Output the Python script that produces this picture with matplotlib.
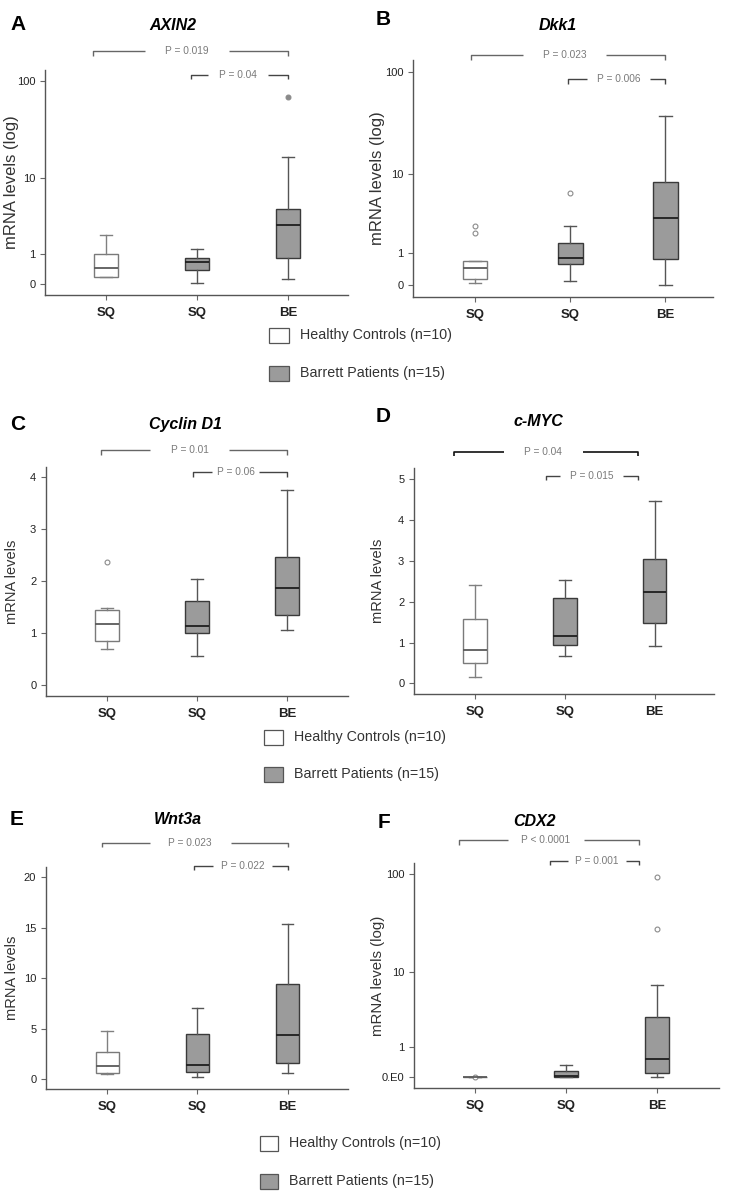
import numpy as np
import matplotlib
matplotlib.use("Agg")
import matplotlib.pyplot as plt
from matplotlib.patches import Rectangle

plt.rcParams['font.family'] = ['Liberation Sans', 'DejaVu Sans']

# categories
groups = ["SQ", "SQ", "BE"]
genes = ["AXIN2", "Dkk1", "Cyclin D1", "c-MYC", "Wnt3a", "CDX2"]
letters = ["A", "B", "C", "D", "E", "F"]
legend_labels = ["Healthy Controls (n=10)", "Barrett Patients (n=15)"]

# box stats (HC SQ, BE-patient SQ, BE-patient BE)
axin2_q1 = [0.18, 0.37, 0.79]
axin2_med = [0.45, 0.64, 2.8]
axin2_q3 = [1.0, 0.79, 4.53]
axin2_lo = [0.17, 0.03, 0.13]
axin2_hi = [2.02, 1.23, 16.8]
axin2_out = [[], [], [69.6]]

dkk1_q1 = [0.15, 0.57, 0.77]
dkk1_med = [0.44, 0.80, 3.25]
dkk1_q3 = [0.69, 1.49, 8.3]
dkk1_lo = [0.045, 0.10, 0.0]
dkk1_hi = [0.69, 2.57, 37.9]
dkk1_out = [[2.11, 2.6], [6.4], []]

ccnd1_q1 = [0.84, 1.01, 1.35]
ccnd1_med = [1.17, 1.13, 1.86]
ccnd1_q3 = [1.44, 1.61, 2.47]
ccnd1_lo = [0.70, 0.56, 1.06]
ccnd1_hi = [1.49, 2.04, 3.74]
ccnd1_out = [[2.37], [], []]

myc_q1 = [0.49, 0.93, 1.48]
myc_med = [0.81, 1.17, 2.23]
myc_q3 = [1.58, 2.10, 3.05]
myc_lo = [0.15, 0.67, 0.92]
myc_hi = [2.40, 2.53, 4.47]
myc_out = [[], [], []]

wnt3a_q1 = [0.66, 0.76, 1.58]
wnt3a_med = [1.29, 1.42, 4.36]
wnt3a_q3 = [2.67, 4.46, 9.41]
wnt3a_lo = [0.5, 0.2, 0.59]
wnt3a_hi = [4.75, 7.09, 15.35]
wnt3a_out = [[], [], []]

cdx2_q1 = [0.01, 0.015, 0.095]
cdx2_med = [0.01, 0.02, 0.51]
cdx2_q3 = [0.01, 0.15, 2.95]
cdx2_lo = [0.01, 0.0, 0.0]
cdx2_hi = [0.01, 0.32, 7.17]
cdx2_out = [[0.01], [], [27.7, 93.0]]

# p values: (overall, SQ vs BE in patients)
p_upper = ["P = 0.019", "P = 0.023", "P = 0.01", "P = 0.04", "P = 0.023", "P < 0.0001"]
p_lower = ["P = 0.04", "P = 0.006", "P = 0.06", "P = 0.015", "P = 0.022", "P = 0.001"]

stats_all = [
    (axin2_q1, axin2_med, axin2_q3, axin2_lo, axin2_hi, axin2_out),
    (dkk1_q1, dkk1_med, dkk1_q3, dkk1_lo, dkk1_hi, dkk1_out),
    (ccnd1_q1, ccnd1_med, ccnd1_q3, ccnd1_lo, ccnd1_hi, ccnd1_out),
    (myc_q1, myc_med, myc_q3, myc_lo, myc_hi, myc_out),
    (wnt3a_q1, wnt3a_med, wnt3a_q3, wnt3a_lo, wnt3a_hi, wnt3a_out),
    (cdx2_q1, cdx2_med, cdx2_q3, cdx2_lo, cdx2_hi, cdx2_out),
]

W, H = 733, 1193
fig = plt.figure(figsize=(W / 100, H / 100), dpi=100)

# axes boxes in pixels: left, top, right, bottom
boxes = [(45, 70, 348, 295), (413, 60, 713, 297),
         (46, 467, 348, 696), (414, 468, 714, 694),
         (46, 867, 348, 1089), (414, 863, 719, 1088)]
log_panel = [True, True, False, False, False, True]
ylims = [(-0.22, 128), (-0.23, 131), (-0.21, 4.19), (-0.26, 5.28), (-0.96, 21.0), (-0.215, 128)]
yticks = [[0, 1, 10, 100], [0, 1, 10, 100], [0, 1, 2, 3, 4], [0, 1, 2, 3, 4, 5],
          [0, 5, 10, 15, 20], [0, 1, 10, 100]]
xlims = [(-0.67, 2.66), (-0.65, 2.5), (-0.68, 2.68), (-0.68, 2.66), (-0.68, 2.67), (-0.67, 2.68)]
ylabel_size = [12, 12, 10.5, 10.5, 10.5, 10.8]
# bracket geometry: (x0, x1, y_axes_frac, text_center, half_gap)
upper_br = [(-0.14, 2.0, 1.084, 0.89, 0.46), (-0.04, 2.0, 1.021, 0.94, 0.44),
            (-0.07, 2.0, 1.074, 0.92, 0.44), (-0.24, 1.81, 1.071, 0.76, 0.44),
            (-0.06, 2.0, 1.108, 0.92, 0.45), (-0.18, 1.80, 1.102, 0.78, 0.42)]
lower_br = [(0.93, 2.0, 0.978, 1.45, 0.33), (0.98, 2.0, 0.920, 1.51, 0.33),
            (0.96, 2.0, 0.978, 1.43, 0.26), (0.79, 1.81, 0.965, 1.30, 0.35),
            (0.96, 2.0, 1.005, 1.50, 0.33), (0.82, 1.80, 1.009, 1.34, 0.32)]
letter_pos = [(10, 30), (376, 25), (10, 430), (376, 422), (10, 825), (378, 828)]
title_pos = [(173, 25), (558, 25), (185, 425), (538, 422), (178, 820), (534, 822)]

fwd = lambda v: np.log10(np.asarray(v, dtype=float) + 1)
inv = lambda v: 10 ** np.asarray(v, dtype=float) - 1

for i in range(6):
    l, t, r, b = boxes[i]
    ax = fig.add_axes([l / W, 1 - b / H, (r - l) / W, (b - t) / H])
    q1, med, q3, lo, hi, out = stats_all[i]
    if log_panel[i]:
        ax.set_yscale('function', functions=(fwd, inv))
    bstats = []
    for k in range(3):
        bstats.append(dict(q1=q1[k], med=med[k], q3=q3[k], whislo=lo[k], whishi=hi[k],
                           fliers=out[k]))
    for k in range(3):
        hc = k == 0
        ec = '#7a7a7a' if hc else '#3a3a3a'
        ax.bxp([bstats[k]], positions=[k], widths=0.26, capwidths=0.13, patch_artist=True,
               boxprops=dict(facecolor='white' if hc else '#9b9b9b', edgecolor=ec, linewidth=1.0),
               medianprops=dict(color='#5a5a5a' if hc else '#1e1e1e', linewidth=1.3),
               whiskerprops=dict(color='#808080' if hc else '#555555', linewidth=1.0),
               capprops=dict(color='#808080' if hc else '#555555', linewidth=1.0),
               flierprops=dict(marker='o', markersize=3.5,
                               markerfacecolor='#8a8a8a' if (i == 0) else 'white',
                               markeredgecolor='#8a8a8a', markeredgewidth=0.8),
               manage_ticks=False)
    ax.set_xlim(*xlims[i])
    ax.set_ylim(*ylims[i])
    ax.set_xticks(range(3))
    ax.set_xticklabels(groups, fontsize=9.5, fontweight='bold', color='#222222')
    ax.set_yticks(yticks[i])
    labs = [str(v) for v in yticks[i]]
    if i == 5:
        labs[0] = "0.E0"
    ax.set_yticklabels(labs, fontsize=8, color='#222222')
    ax.yaxis.set_minor_locator(matplotlib.ticker.NullLocator())
    for s in ['top', 'right']:
        ax.spines[s].set_visible(False)
    for s in ['left', 'bottom']:
        ax.spines[s].set_color('#555555')
        ax.spines[s].set_linewidth(1.0)
    ax.tick_params(axis='both', length=3.5, width=0.8, color='#666666')
    ax.tick_params(axis='x', pad=5)
    ax.set_ylabel("mRNA levels (log)" if log_panel[i] else "mRNA levels",
                  fontsize=ylabel_size[i], color='#333333')
    lab_x = 19 if l < 100 else 385
    ax.yaxis.set_label_coords((lab_x - l) / (r - l), 0.5)

    trans = ax.get_xaxis_transform()
    for br, lab, col, lw in [(upper_br[i], p_upper[i], '#111111' if i == 3 else '#666666', 1.2 if i == 3 else 1.0),
                             (lower_br[i], p_lower[i], '#444444', 1.0)]:
        x0, x1, yb, xc, g = br
        tick = 0.02
        ax.plot([x0, x0, xc - g], [yb - tick, yb, yb], color=col, lw=lw, transform=trans,
                clip_on=False, solid_capstyle='butt')
        ax.plot([xc + g, x1, x1], [yb, yb, yb - tick], color=col, lw=lw, transform=trans,
                clip_on=False, solid_capstyle='butt')
        ax.text(xc, yb, lab, transform=trans, ha='center', va='center', fontsize=7.3,
                color='#7a7a7a')

    fig.text(letter_pos[i][0] / W, 1 - letter_pos[i][1] / H, letters[i], fontsize=15,
             fontweight='bold', ha='left', va='baseline')
    fig.text(title_pos[i][0] / W, 1 - title_pos[i][1] / H, genes[i], fontsize=11.5,
             fontweight='bold', style='italic', ha='center', va='center')

# legends: (box left, box right, row1 center, row2 center, text x)
legend_pos = [(269, 289, 335, 373, 300), (264, 283, 737, 774, 294), (260, 278, 1143, 1181, 289)]
for bl, br_, y1, y2, tx in legend_pos:
    for yc, fc, lab in [(y1, 'white', legend_labels[0]), (y2, '#9b9b9b', legend_labels[1])]:
        hh = 15
        fig.patches.append(Rectangle((bl / W, 1 - (yc + hh / 2) / H), (br_ - bl) / W, hh / H,
                                     transform=fig.transFigure, facecolor=fc,
                                     edgecolor='#555555', linewidth=0.9))
        fig.text(tx / W, 1 - yc / H, lab, fontsize=10.3, color='#333333', va='center', ha='left')

fig.savefig("out.png", dpi=100)
